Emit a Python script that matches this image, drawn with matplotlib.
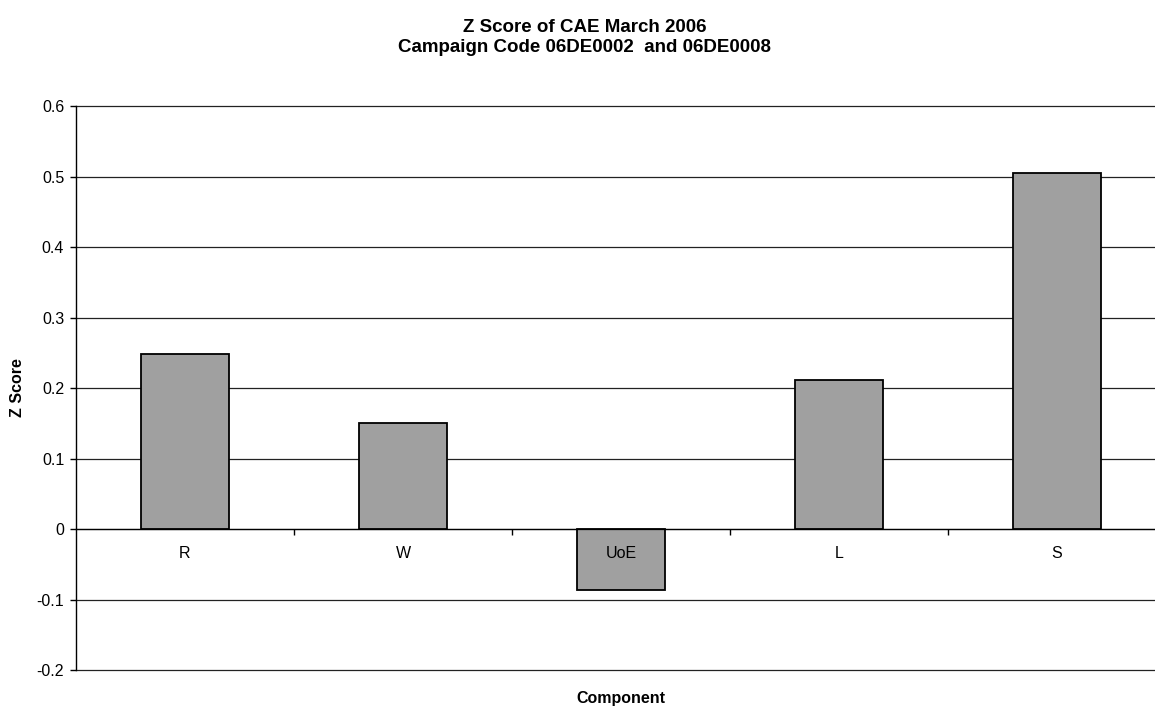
import matplotlib.pyplot as plt
import numpy as np
from matplotlib.ticker import FixedLocator, FuncFormatter

plt.rcParams["font.family"] = ["Liberation Sans", "DejaVu Sans"]

components = ["R", "W", "UoE", "L", "S"]
z_scores = [0.248, 0.151, -0.086, 0.212, 0.505]
y_ticks = [-0.2, -0.1, 0, 0.1, 0.2, 0.3, 0.4, 0.5, 0.6]

fig = plt.figure(figsize=(11.55, 7.06), dpi=100)
# the plot area runs past the right edge of the picture, as in the original
ax = fig.add_axes([76 / 1155, 1 - 670 / 706, 1090 / 1155, (670 - 106.3) / 706])
ax.set_axisbelow(False)

x = np.arange(len(components)) + 0.5
ax.bar(x, z_scores, width=0.4, color="#a0a0a0", edgecolor="black",
       linewidth=1.3, zorder=2)

ax.set_xlim(0, len(components))
ax.set_ylim(-0.2, 0.6)

# horizontal gridlines
for yv in y_ticks:
    ax.axhline(yv, color="#222222", linewidth=0.9, zorder=1, clip_on=False)

for side in ["top", "right"]:
    ax.spines[side].set_visible(False)
ax.spines["left"].set_linewidth(1.0)
ax.spines["bottom"].set_position(("data", 0))
ax.spines["bottom"].set_linewidth(0.9)

ax.yaxis.set_major_locator(FixedLocator(y_ticks))
ax.yaxis.set_major_formatter(FuncFormatter(lambda v, p: f"{v:g}"))
ax.tick_params(axis="y", length=4.5, width=1.0, pad=4, labelsize=11.5)

ax.set_xticks(x)
ax.set_xticklabels(components)
ax.set_xticks(np.arange(1, len(components)), minor=True)
ax.tick_params(axis="x", which="major", length=0, pad=12, labelsize=11.5)
ax.tick_params(axis="x", which="minor", length=4, width=1.0, direction="out")

fig.text(585 / 1155, 1 - 31.5 / 706, "Z Score of CAE March 2006",
         ha="center", va="baseline", fontsize=13.5, fontweight="bold")
fig.text(585 / 1155, 1 - 51.5 / 706, "Campaign Code 06DE0002  and 06DE0008",
         ha="center", va="baseline", fontsize=13.5, fontweight="bold")
fig.text(18 / 1155, 1 - 388 / 706, "Z Score", rotation=90,
         ha="center", va="center", fontsize=11.5, fontweight="bold")
fig.text(621 / 1155, 1 - 703 / 706, "Component",
         ha="center", va="baseline", fontsize=11.5, fontweight="bold")

fig.savefig("out.png", dpi=100, facecolor="white")
